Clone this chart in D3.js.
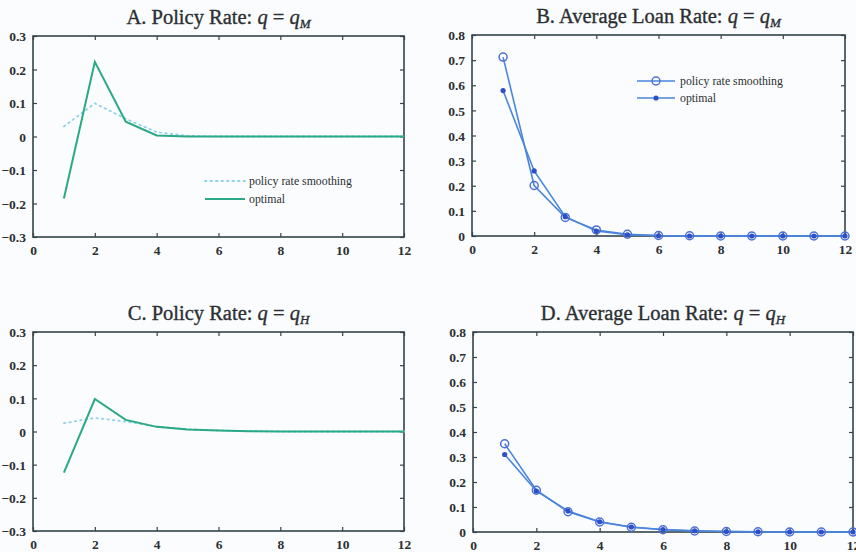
<!DOCTYPE html>
<html>
<head>
<meta charset="utf-8">
<script src="https://cdn.jsdelivr.net/npm/d3@7"></script>
<style>
  body { margin: 0; background: #fbfcfd; }
  svg { display: block; }
  text { font-family: "Liberation Serif", "Times New Roman", serif; fill: #2b2f33; }
</style>
</head>
<body>
<div id="chart"></div>
<script>
// periods
const periods = [1, 2, 3, 4, 5, 6, 7, 8, 9, 10, 11, 12]
const xTicks = [0, 2, 4, 6, 8, 10, 12]
const rateTicks = [-0.3, -0.2, -0.1, 0, 0.1, 0.2, 0.3]
const loanTicks = [0, 0.1, 0.2, 0.3, 0.4, 0.5, 0.6, 0.7, 0.8]

// A. policy rate, q = qM
const policyM_smooth = [0.03, 0.099, 0.053, 0.013, 0.002, 0, 0, 0, 0, 0, 0, 0]
const policyM_opt = [-0.185, 0.223, 0.044, 0.003, 0, 0, 0, 0, 0, 0, 0, 0]
// B. average loan rate, q = qM
const loanM_smooth = [0.712, 0.201, 0.074, 0.024, 0.007, 0.002, 0.001, 0, 0, 0, 0, 0]
const loanM_opt = [0.579, 0.259, 0.077, 0.02, 0.005, 0.001, 0, 0, 0, 0, 0, 0]
// C. policy rate, q = qH
const policyH_smooth = [0.025, 0.041, 0.03, 0.015, 0.007, 0.003, 0.001, 0, 0, 0, 0, 0]
const policyH_opt = [-0.124, 0.098, 0.035, 0.014, 0.006, 0.003, 0.001, 0, 0, 0, 0, 0]
// D. average loan rate, q = qH
const loanH_smooth = [0.353, 0.167, 0.081, 0.04, 0.019, 0.009, 0.004, 0.002, 0.001, 0, 0, 0]
const loanH_opt = [0.31, 0.164, 0.084, 0.041, 0.02, 0.01, 0.005, 0.002, 0.001, 0, 0, 0]

const width = 856, height = 552
const axisColor = "#34444c"
const green = "#2aa887", cyan = "#8fd3e6"
const blueLine = "#4a86dc", blueMark = "#2d50c4"
const serif = "'Liberation Serif', 'Times New Roman', serif"

let svg = d3.select("#chart").append("svg")
    .attr("width", width)
    .attr("height", height)

const panels = [
    { box: [33, 36, 404, 237], title: ["A. Policy Rate: ", "M"], yTicks: rateTicks, yDom: [-0.3, 0.3],
      kind: "policy", smooth: policyM_smooth, opt: policyM_opt, legend: [205, 181] },
    { box: [472, 35, 845, 236], title: ["B. Average Loan Rate: ", "M"], yTicks: loanTicks, yDom: [0, 0.8],
      kind: "loan", smooth: loanM_smooth, opt: loanM_opt, legend: [637, 81] },
    { box: [33, 332, 404, 531], title: ["C. Policy Rate: ", "H"], yTicks: rateTicks, yDom: [-0.3, 0.3],
      kind: "policy", smooth: policyH_smooth, opt: policyH_opt },
    { box: [473, 332, 853, 532], title: ["D. Average Loan Rate: ", "H"], yTicks: loanTicks, yDom: [0, 0.8],
      kind: "loan", smooth: loanH_smooth, opt: loanH_opt }
]

function fmt(v) {
    if (v === 0) return "0"
    let s = String(Math.round(v * 10) / 10)
    return s.replace("-", "\u2212")
}

panels.forEach((p) => {
    let [x0, y0, x1, y1] = p.box
    let x = d3.scaleLinear().domain([0, 12]).range([x0, x1])
    let y = d3.scaleLinear().domain(p.yDom).range([y1, y0])
    let g = svg.append("g")

    // title
    let t = g.append("text")
        .attr("x", (x0 + x1) / 2)
        .attr("y", y0 - 12)
        .attr("text-anchor", "middle")
        .attr("font-size", 20.5)
        .attr("stroke", "#2b2f33")
        .attr("stroke-width", 0.35)
    t.append("tspan").text(p.title[0])
    t.append("tspan").attr("font-style", "italic").text("q")
    t.append("tspan").text(" = ")
    t.append("tspan").attr("font-style", "italic").text("q")
    t.append("tspan").attr("font-style", "italic").attr("font-size", 13).attr("dy", 4).text(p.title[1])

    // frame
    g.append("rect")
        .attr("x", x0).attr("y", y0)
        .attr("width", x1 - x0).attr("height", y1 - y0)
        .attr("fill", "none")
        .attr("stroke", axisColor)
        .attr("stroke-width", 1.6)

    // axes with inward ticks
    let bottom = g.append("g").attr("transform", `translate(0,${y1})`)
        .call(d3.axisBottom(x).tickValues(xTicks).tickSizeInner(-4).tickSizeOuter(0).tickPadding(8).tickFormat(d3.format("d")))
    let top = g.append("g").attr("transform", `translate(0,${y0})`)
        .call(d3.axisTop(x).tickValues(xTicks).tickSizeInner(-4).tickSizeOuter(0).tickFormat(""))
    let left = g.append("g").attr("transform", `translate(${x0},0)`)
        .call(d3.axisLeft(y).tickValues(p.yTicks).tickSizeInner(-4).tickSizeOuter(0).tickPadding(7).tickFormat(fmt))
    let right = g.append("g").attr("transform", `translate(${x1},0)`)
        .call(d3.axisRight(y).tickValues(p.yTicks).tickSizeInner(-4).tickSizeOuter(0).tickFormat(""))
    ;[bottom, top, left, right].forEach((a) => {
        a.attr("font-family", serif)
        a.select(".domain").remove()
        a.selectAll("line").attr("stroke", axisColor).attr("stroke-width", 1.2)
        a.selectAll("text")
            .attr("font-size", 13.5)
            .attr("font-weight", "bold")
            .attr("fill", "#2b2f33")
            .style("font-family", serif)
    })
    left.selectAll("text").attr("dy", "0.35em")
    bottom.selectAll("text").attr("dy", "0.71em")

    let line = d3.line().x((d, i) => x(periods[i])).y((d) => y(d))

    if (p.kind === "policy") {
        g.append("path").datum(p.smooth)
            .attr("d", line)
            .attr("fill", "none")
            .attr("stroke", cyan)
            .attr("stroke-width", 1.8)
            .attr("stroke-dasharray", "1.5 4")
            .attr("stroke-linecap", "round")
        g.append("path").datum(p.opt)
            .attr("d", line)
            .attr("fill", "none")
            .attr("stroke", green)
            .attr("stroke-width", 2)
        if (p.legend) {
            let [lx, ly] = p.legend
            g.append("line").attr("x1", lx).attr("x2", lx + 40).attr("y1", ly).attr("y2", ly)
                .attr("stroke", cyan).attr("stroke-width", 1.8).attr("stroke-dasharray", "1.5 4").attr("stroke-linecap", "round")
            g.append("line").attr("x1", lx).attr("x2", lx + 40).attr("y1", ly + 18).attr("y2", ly + 18)
                .attr("stroke", green).attr("stroke-width", 2)
            g.append("text").attr("x", lx + 44).attr("y", ly + 4).attr("font-size", 11.8).text("policy rate smoothing")
            g.append("text").attr("x", lx + 44).attr("y", ly + 22).attr("font-size", 11.8).text("optimal")
        }
    } else {
        g.append("path").datum(p.smooth)
            .attr("d", line)
            .attr("fill", "none")
            .attr("stroke", blueLine)
            .attr("stroke-width", 1.6)
        g.append("path").datum(p.opt)
            .attr("d", line)
            .attr("fill", "none")
            .attr("stroke", blueLine)
            .attr("stroke-width", 1.6)
        g.selectAll(".smooth-mark").data(p.smooth).enter()
            .append("circle")
            .attr("class", "smooth-mark")
            .attr("cx", (d, i) => x(periods[i]))
            .attr("cy", (d) => y(d))
            .attr("r", 4)
            .attr("fill", "none")
            .attr("stroke", "#4c6fd6")
            .attr("stroke-width", 1.5)
        g.selectAll(".opt-mark").data(p.opt).enter()
            .append("circle")
            .attr("class", "opt-mark")
            .attr("cx", (d, i) => x(periods[i]))
            .attr("cy", (d) => y(d))
            .attr("r", 2.6)
            .attr("fill", blueMark)
        if (p.legend) {
            let [lx, ly] = p.legend
            g.append("line").attr("x1", lx).attr("x2", lx + 38).attr("y1", ly).attr("y2", ly)
                .attr("stroke", blueLine).attr("stroke-width", 1.6)
            g.append("circle").attr("cx", lx + 19).attr("cy", ly).attr("r", 4)
                .attr("fill", "none").attr("stroke", "#4c6fd6").attr("stroke-width", 1.5)
            g.append("line").attr("x1", lx).attr("x2", lx + 38).attr("y1", ly + 17).attr("y2", ly + 17)
                .attr("stroke", blueLine).attr("stroke-width", 1.6)
            g.append("circle").attr("cx", lx + 19).attr("cy", ly + 17).attr("r", 2.6).attr("fill", blueMark)
            g.append("text").attr("x", lx + 43).attr("y", ly + 4).attr("font-size", 11.8).text("policy rate smoothing")
            g.append("text").attr("x", lx + 43).attr("y", ly + 21).attr("font-size", 11.8).text("optimal")
        }
    }
})
</script>
</body>
</html>
